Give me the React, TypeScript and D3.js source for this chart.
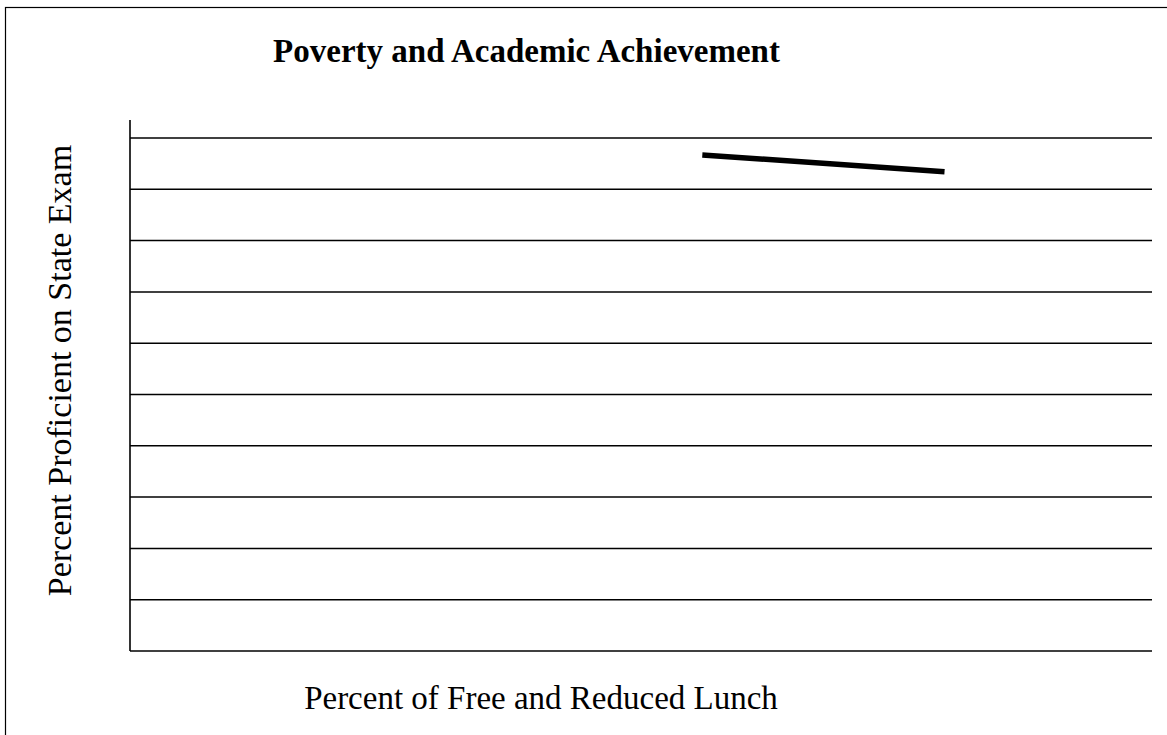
import React from "react";
import * as d3 from "d3";

const W = 1167;
const H = 735;

const yTicks = [10, 20, 30, 40, 50, 60, 70, 80, 90, 100];
const lineX = [56, 79.7];
const lineY = [96.7, 93.4];

const title = "Poverty and Academic Achievement";
const xLabel = "Percent of Free and Reduced Lunch";
const yLabel = "Percent Proficient on State Exam";

export default function App() {
  const x = d3.scaleLinear().domain([0, 100]).range([130, 1152]);
  const y = d3.scaleLinear().domain([0, 100]).range([651, 138]);
  const pts: [number, number][] = lineX.map((v, i) => [v, lineY[i]]);
  const line = d3
    .line<[number, number]>()
    .x((d) => x(d[0]))
    .y((d) => y(d[1]));
  const font = "'Liberation Serif', 'Times New Roman', serif";
  return (
    <svg
      width={W}
      height={H}
      style={{ position: "absolute", left: 0, top: 0, background: "#fff" }}
    >
      <rect x={5.5} y={7.5} width={W + 10} height={H + 10} fill="none" stroke="#000" strokeWidth={1.2} />
      <text x={526.5} y={62} textAnchor="middle" fontFamily={font} fontWeight="bold" fontSize={33}>
        {title}
      </text>
      {yTicks.map((t) => (
        <line key={t} x1={x(0)} x2={x(100)} y1={y(t)} y2={y(t)} stroke="#000" strokeWidth={1.5} />
      ))}
      <line x1={x(0)} x2={x(0)} y1={y(103.5)} y2={y(0)} stroke="#000" strokeWidth={1.6} />
      <line x1={x(0)} x2={x(100)} y1={y(0)} y2={y(0)} stroke="#000" strokeWidth={1.6} />
      <path d={line(pts) || ""} fill="none" stroke="#000" strokeWidth={5.5} />
      <text x={541} y={709} textAnchor="middle" fontFamily={font} fontSize={33}>
        {xLabel}
      </text>
      <text
        transform={`translate(71, 370.5) rotate(-90)`}
        textAnchor="middle"
        fontFamily={font}
        fontSize={34}
      >
        {yLabel}
      </text>
    </svg>
  );
}
